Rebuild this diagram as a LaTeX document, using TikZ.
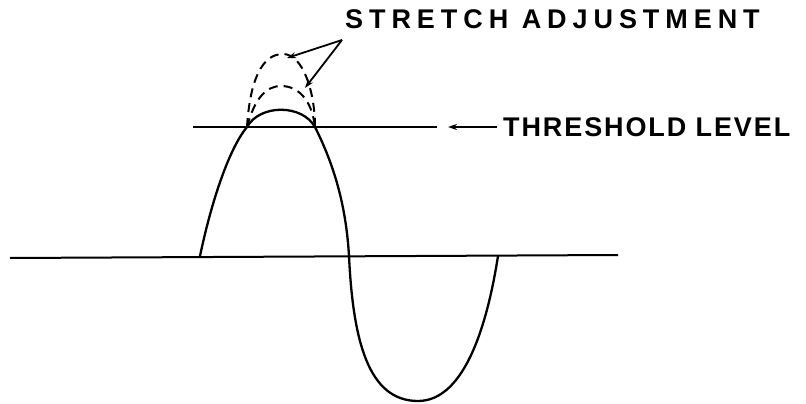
\documentclass[tikz,border=0pt]{standalone}
\usepackage{fontspec}
\setmainfont{Liberation Sans}
\usepackage{tikz}
\usetikzlibrary{arrows.meta}

\tikzset{
  onde/.style={line width=2.3pt, line join=round},
  trait/.style={line width=2pt},
  tirets/.style={line width=2pt, dash pattern=on 9pt off 6pt},
  fleche/.style={->, line width=1.8pt, >={Stealth[length=9pt, width=6pt]}},
  legende/.style={font=\fontsize{27}{30}\selectfont\bfseries, inner sep=0pt, anchor=west}
}

\begin{document}
\begin{tikzpicture}[x=1pt, y=-1pt, >=Stealth]
\useasboundingbox (0,0) rectangle (806,404);
% points de la courbe
\coordinate (d) at (200,256);
\coordinate (g) at (247,127);
\coordinate (h) at (315,127);
\coordinate (z) at (349,256);
\coordinate (f) at (498,256);
\coordinate (pext) at (287,58);
\coordinate (pint) at (305,88);
% axe
\draw[trait] (10,258) -- (618,255);
% niveau de seuil
\draw[trait] (193,127) -- (437,127);
\node[legende] (seuil) at (503,127) {\addfontfeature{LetterSpace=7}THRESHOLD LEVEL};
\draw[fleche] (seuil.west) ++(-6,0) -- (448,127);
% onde (sommet ecrete)
\draw[onde] (d) .. controls (214,190) and (232,145) .. (g)
  .. controls (260,104) and (302,104) .. (h)
  .. controls (334,165) and (346,205) .. (z)
  .. controls (353,340) and (368,401) .. (418,401)
  .. controls (466,401) and (488,320) .. (f);
% etirement (pointilles)
\draw[tirets] (g) .. controls (250,80) and (262,54) .. (283,54)
  .. controls (303,54) and (315,92) .. (h);
\draw[tirets] (g) .. controls (255,97) and (267,86) .. (281,86)
  .. controls (299,86) and (312,101) .. (h);
% legende du haut
\node[legende] (etire) at (345,19) {\addfontfeature{LetterSpace=22}STRETCH ADJUSTMENT};
\coordinate (dep) at (342,40);
\draw[fleche] (dep) -- (pext);
\draw[fleche] (dep) -- (pint);
\end{tikzpicture}
\end{document}
